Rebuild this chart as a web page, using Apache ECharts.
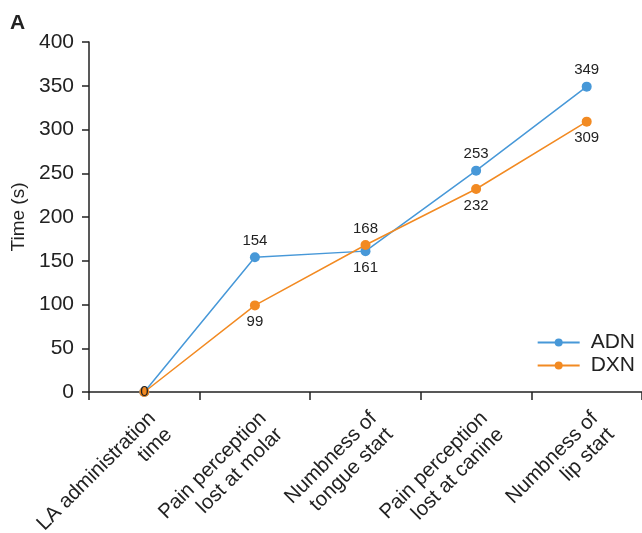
<!DOCTYPE html>
<html>
<head>
<meta charset="utf-8">
<script src="https://cdn.jsdelivr.net/npm/echarts@6/dist/echarts.min.js"></script>
<style>html,body{margin:0;padding:0;background:#fff}#c{width:642px;height:533px}</style>
</head>
<body>
<div id="c"></div>
<script>
var categories = ["LA administration\ntime", "Pain perception\nlost at molar", "Numbness of\ntongue start", "Pain perception\nlost at canine", "Numbness of\nlip start"];
var adn = [0, 154, 161, 253, 349];
var dxn = [0, 99, 168, 232, 309];
var adnLabelPos = ["none", "top", "bottom", "top", "top"];
var dxnLabelPos = ["inside", "bottom", "top", "bottom", "bottom"];
var yTicks = {min: 0, max: 400, interval: 50};

var font = "'Liberation Sans', Arial, sans-serif";
function buildData(vals, pos) {
  return vals.map(function (v, i) {
    return {
      value: v,
      label: pos[i] === "none" ? {show: false} : {show: true, position: pos[i], distance: 4}
    };
  });
}
var chart = echarts.init(document.getElementById('c'));
chart.setOption({
  animation: false,
  title: {text: 'A', left: 5, top: 8, textStyle: {fontFamily: font, fontSize: 21, fontWeight: 'bold', color: '#222'}},
  grid: {left: 89, right: 0, top: 42, bottom: 141, containLabel: false, outerBoundsMode: 'none'},
  legend: {
    right: 2, top: 327, orient: 'vertical', itemGap: 2, itemWidth: 42, itemHeight: 10,
    textStyle: {fontFamily: font, fontSize: 21, color: '#222', padding: [0, 0, 0, 6]},
    data: ['ADN', 'DXN']
  },
  xAxis: {
    type: 'category', data: categories, boundaryGap: true,
    axisLine: {lineStyle: {color: '#222', width: 1.5}},
    axisTick: {show: true, length: 8, lineStyle: {color: '#222', width: 1.5}, alignWithLabel: false},
    axisLabel: {rotate: 45, interval: 0, fontFamily: font, fontSize: 20.5, color: '#222', lineHeight: 23, margin: 15, verticalAlign: 'top'}
  },
  yAxis: {
    type: 'value', min: yTicks.min, max: yTicks.max, interval: yTicks.interval,
    name: 'Time (s)', nameLocation: 'middle', nameGap: 61,
    nameTextStyle: {fontFamily: font, fontSize: 19, color: '#222'},
    splitLine: {show: false},
    axisLine: {show: true, lineStyle: {color: '#222', width: 1.5}},
    axisTick: {show: true, length: 7, lineStyle: {color: '#222', width: 1.5}},
    axisLabel: {fontFamily: font, fontSize: 21, color: '#222', margin: 15}
  },
  series: [
    {
      name: 'ADN', type: 'line', data: buildData(adn, adnLabelPos),
      symbol: 'circle', symbolSize: 10, color: '#4798d8',
      lineStyle: {width: 1.5, color: '#4798d8'},
      label: {fontFamily: font, fontSize: 15, color: '#222'}
    },
    {
      name: 'DXN', type: 'line', data: buildData(dxn, dxnLabelPos),
      symbol: 'circle', symbolSize: 10, color: '#f28a22',
      lineStyle: {width: 1.5, color: '#f28a22'},
      label: {fontFamily: font, fontSize: 15, color: '#222'}
    }
  ]
});
</script>
</body>
</html>
